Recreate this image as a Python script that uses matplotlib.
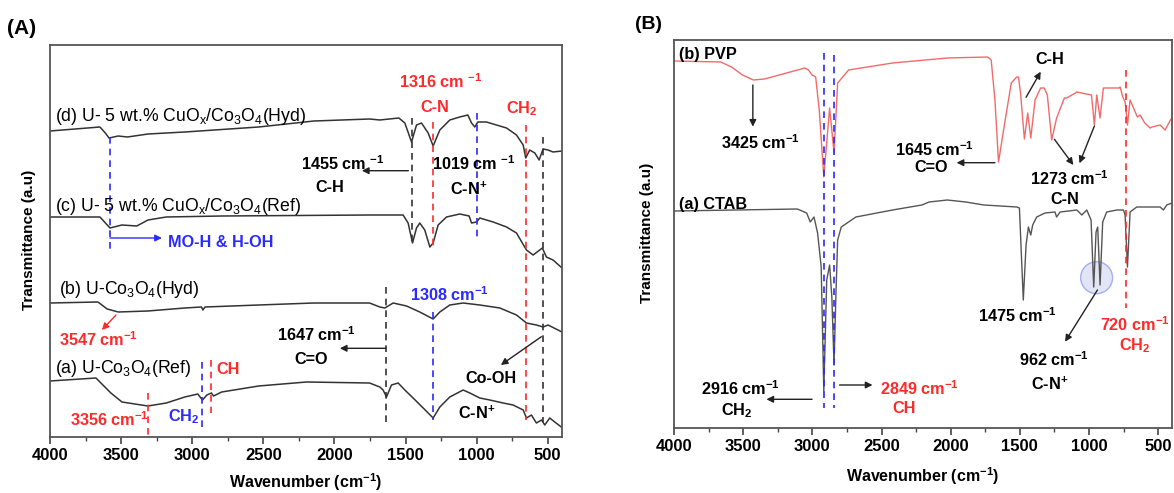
import matplotlib
matplotlib.use("Agg")
import matplotlib.pyplot as plt
from matplotlib.patches import Ellipse

plt.rcParams['font.family'] = ['Liberation Sans', 'DejaVu Sans']
plt.rcParams['mathtext.default'] = 'regular'

# ---------------- Panel A data (wavenumber, transmittance a.u.) ----------------
wn_d = [4000, 3649, 3611, 3585, 3520, 3455, 3311, 3052, 2533, 2273, 2144, 1753, 1681, 1547, 1505,
        1458, 1423, 1388, 1341, 1306, 1259, 1189, 1119, 1062, 1036, 1013, 992, 931, 861, 790, 720,
        673, 655, 627, 591, 561, 533, 498, 463, 400]
t_d = [306, 310, 304, 299, 301, 300, 303, 305, 310, 314, 316, 318, 317, 319, 314,
       295, 312, 314, 304, 291, 307, 317, 320, 322, 314, 310, 315, 315, 312, 309, 302,
       292, 279, 287, 284, 277, 288, 287, 285, 286]

wn_c = [4000, 3649, 3578, 3494, 3390, 3311, 3183, 2792, 1753, 1681, 1517, 1482, 1451, 1423, 1400,
        1365, 1329, 1306, 1271, 1212, 1119, 1053, 1036, 1001, 978, 884, 790, 720, 650, 603, 538,
        510, 463, 400]
t_c = [220, 220, 209, 212, 211, 217, 220, 221, 222, 222, 222, 214, 194, 209, 214,
       207, 190, 194, 212, 220, 223, 221, 214, 215, 219, 215, 210, 204, 187, 182, 189,
       180, 177, 169]

wn_b = [4000, 3663, 3598, 3520, 3312, 3052, 2935, 2925, 2910, 2533, 2144, 1753, 1681, 1646, 1587,
        1493, 1400, 1306, 1259, 1189, 1095, 978, 837, 720, 650, 580, 533, 498, 400]
t_b = [134, 135, 128, 125, 126, 129, 130, 127, 130, 132, 134, 134, 130, 129, 134,
       131, 125, 118, 125, 132, 134, 132, 129, 122, 114, 112, 110, 112, 105]

wn_a = [4000, 3677, 3572, 3494, 3312, 3182, 3052, 2961, 2928, 2897, 2865, 2850, 2793, 2533, 2196,
        1753, 1681, 1658, 1634, 1599, 1552, 1505, 1447, 1376, 1306, 1259, 1189, 1095, 1048, 978,
        908, 814, 744, 673, 650, 615, 580, 544, 521, 486, 451, 405]
t_a = [56, 59, 44, 35, 31, 34, 40, 43, 37, 42, 44, 41, 45, 51, 55,
       54, 50, 47, 40, 52, 54, 47, 39, 29, 19, 30, 40, 47, 44, 39,
       37, 34, 32, 27, 19, 22, 14, 17, 12, 19, 15, 10]

# ---------------- Panel B data ----------------
wn_pvp = [4000, 3662, 3584, 3505, 3426, 3346, 3213, 3054, 3028, 3002, 2976, 2950, 2917, 2875, 2843,
          2817, 2738, 2420, 2025, 1733, 1707, 1680, 1654, 1614, 1562, 1522, 1510, 1495, 1467, 1443,
          1421, 1390, 1350, 1324, 1301, 1270, 1234, 1178, 1162, 1098, 1090, 982, 961, 944, 920,
          896, 782, 775, 756, 739, 722, 703, 650, 630, 597, 558, 544, 486, 450, 411, 400]
t_pvp = [367, 366, 361, 353, 348, 349, 354, 360, 358, 353, 351, 318, 251, 320, 275,
         345, 358, 365, 370, 371, 368, 328, 266, 301, 345, 351, 351, 335, 289, 315,
         290, 328, 340, 340, 333, 288, 310, 330, 330, 335, 336, 333, 303, 333, 310,
         340, 340, 341, 331, 326, 303, 328, 311, 313, 305, 300, 301, 303, 298, 308, 310]

wn_ctab = [4000, 3108, 3041, 3015, 2988, 2962, 2949, 2936, 2917, 2896, 2875, 2859, 2843, 2830, 2817,
           2791, 2685, 2420, 2208, 2156, 2024, 1891, 1759, 1522, 1503, 1475, 1455, 1438, 1421, 1407,
           1378, 1318, 1246, 1234, 1209, 1088, 1052, 1016, 985, 966, 949, 937, 920, 901, 872,
           799, 751, 739, 722, 703, 655, 486, 462, 438, 400]
t_ctab = [217, 219, 215, 206, 211, 195, 178, 161, 36, 148, 163, 131, 63, 131, 188,
          201, 211, 218, 223, 226, 228, 226, 223, 221, 220, 128, 183, 201, 193, 203,
          211, 215, 216, 211, 216, 218, 213, 218, 208, 141, 196, 201, 143, 206, 216,
          218, 218, 213, 161, 216, 221, 221, 218, 223, 225]

xticks = [4000, 3500, 3000, 2500, 2000, 1500, 1000, 500]

RED = '#ff2a2a'
BLUE = '#2a2aff'
DARK = '#333333'

fig = plt.figure(figsize=(11.74, 4.93), dpi=100)
W, H = 1174, 493

def axpos(l, t, r, b):
    return [l / W, 1 - b / H, (r - l) / W, (b - t) / H]

axA = fig.add_axes(axpos(50, 45, 562, 437))
axB = fig.add_axes(axpos(674, 40, 1172, 428))

for ax in (axA, axB):
    ax.set_xlim(4000, 400)
    ax.set_xticks(xticks)
    ax.set_xticks([3750, 3250, 2750, 2250, 1750, 1250, 750], minor=True)
    ax.set_yticks([])
    ax.tick_params(axis='x', which='major', direction='out', length=5, width=1.2, colors='#444',
                   labelsize=12, labelcolor='black', pad=3)
    ax.tick_params(axis='x', which='minor', direction='out', length=3, width=1.0, colors='#444')
    for lab in ax.get_xticklabels():
        lab.set_fontweight('bold')
    for s in ax.spines.values():
        s.set_color('#555555')
        s.set_linewidth(1.3)

axA.set_ylim(0, 392)
axB.set_ylim(0, 388)

# curves
for wn, t in ((wn_d, t_d), (wn_c, t_c), (wn_b, t_b), (wn_a, t_a)):
    axA.plot(wn, t, color=DARK, lw=1.1)
axB.plot(wn_pvp, t_pvp, color='#f26a6a', lw=1.0)
axB.plot(wn_ctab, t_ctab, color='#555555', lw=1.0)

dash = (0, (4, 3))
def vline(ax, x, y0, y1, c):
    ax.plot([x, x], [y0, y1], color=c, lw=1.2, linestyle=dash)

# Panel A dashed lines
for x, y0, y1, c in [(3578, 300, 185, BLUE), (1458, 319, 194, DARK), (1306, 315, 190, RED),
                     (1001, 324, 200, BLUE), (650, 312, 17, RED), (533, 300, 15, DARK),
                     (1634, 150, 14, DARK), (1306, 125, 17, BLUE), (3312, 44, 2, RED),
                     (2928, 75, 10, BLUE), (2865, 77, 24, RED)]:
    vline(axA, x, y0, y1, c)

# Panel B dashed lines
for x, y0, y1, c in [(2917, 375, 20, BLUE), (2843, 373, 20, BLUE), (735, 358, 120, RED)]:
    vline(axB, x, y0, y1, c)

def txt(ax, x, y, s, c='black', bold=True, size=11.7, ha='left'):
    ax.text(x, y, s, color=c, fontsize=size, fontweight='bold' if bold else 'normal',
            ha=ha, va='center')

def arrow(ax, x0, y0, x1, y1, c='#222222'):
    ax.annotate('', xy=(x1, y1), xytext=(x0, y0),
                arrowprops=dict(arrowstyle='-|>', color=c, lw=1.0, mutation_scale=10,
                                shrinkA=0, shrinkB=0))

# Panel A text
txt(axA, 3965, 320.5, '(d) U- 5 wt.% CuO$_x$/Co$_3$O$_4$(Hyd)', bold=False, size=12.7)
txt(axA, 3965, 230.5, '(c) U- 5 wt.% CuO$_x$/Co$_3$O$_4$(Ref)', bold=False, size=12.7)
txt(axA, 3937, 147.5, '(b) U-Co$_3$O$_4$(Hyd)', bold=False, size=12.7)
txt(axA, 3965, 68.5, '(a) U-Co$_3$O$_4$(Ref)', bold=False, size=12.7)
txt(axA, 3171, 194.5, 'MO-H & H-OH', c=BLUE)
arrow(axA, 3578, 199, 3213, 199, c=BLUE)
txt(axA, 1547, 355.5, '1316 cm $^{-1}$', c=RED)
txt(axA, 1393, 329.5, 'C-N', c=RED)
txt(axA, 795, 328.5, 'CH$_2$', c=RED)
txt(axA, 2236, 273.5, '1455 cm $^{-1}$')
arrow(axA, 1480, 266.3, 1807, 266.3)
txt(axA, 2131, 249, 'C-H')
txt(axA, 1315, 273.5, '1019 cm $^{-1}$')
txt(axA, 1189, 248, 'C-N$^{+}$')
txt(axA, 3937, 97, '3547 cm$^{-1}$', c=RED)
arrow(axA, 3536, 122, 3635, 107, c=RED)
txt(axA, 1470, 142.5, '1308 cm$^{-1}$', c=BLUE)
txt(axA, 2405, 102.5, '1647 cm$^{-1}$')
arrow(axA, 1639, 88.7, 1962, 88.7)
txt(axA, 2285, 77, 'C=O')
txt(axA, 2833, 67.5, 'CH', c=RED)
txt(axA, 3171, 20.5, 'CH$_2$', c=BLUE)
txt(axA, 3859, 17.5, '3356 cm$^{-1}$', c=RED)
txt(axA, 1076, 58.5, 'Co-OH')
arrow(axA, 545, 100.3, 830, 72)
txt(axA, 1133, 23.5, 'C-N$^{+}$')

# Panel B text
txt(axB, 3964, 374, '(b) PVP', size=11.7)
txt(axB, 3964, 224, '(a) CTAB', size=11.7)
arrow(axB, 3430, 343, 3430, 301.3)
txt(axB, 3662, 285.5, '3425 cm$^{-1}$')
txt(axB, 2402, 278.5, '1645 cm$^{-1}$')
txt(axB, 2265, 260.5, 'C=O')
arrow(axB, 1680, 265.3, 1957, 265.3)
txt(axB, 1390, 369, 'C-H')
arrow(axB, 1455, 330.7, 1349, 356.3)
txt(axB, 1426, 249.5, '1273 cm$^{-1}$')
txt(axB, 1281, 229, 'C-N')
arrow(axB, 1250, 288.7, 1113, 263)
arrow(axB, 961, 302, 1069, 264.7)
txt(axB, 3808, 39.5, '2916 cm$^{-1}$')
txt(axB, 3662, 17, 'CH$_2$')
arrow(axB, 3002, 28.7, 3332, 28.7)
txt(axB, 2513, 39.5, '2849 cm$^{-1}$', c=RED)
txt(axB, 2420, 19.5, 'CH', c=RED)
arrow(axB, 2803, 43, 2565, 43)
txt(axB, 1802, 112.5, '1475 cm$^{-1}$')
txt(axB, 1508, 68.5, '962 cm$^{-1}$')
txt(axB, 1419, 43.5, 'C-N$^{+}$')
arrow(axB, 939, 138, 1173, 86.3)
txt(axB, 920, 103.5, '720 cm$^{-1}$', c=RED)
txt(axB, 782, 82, 'CH$_2$', c=RED)
axB.add_patch(Ellipse((945, 150.3), 231, 32, facecolor=(0.55, 0.6, 0.85, 0.25),
                      edgecolor=(0.45, 0.5, 0.95, 0.6), lw=1.0))

# axis labels
for ax, yl in ((axA, (437 - 482) / 392), (axB, (428 - 476) / 388)):
    ax.text(0.5, yl, 'Wavenumber (cm$^{-1}$)', transform=ax.transAxes, ha='center', va='center',
            fontsize=11.5, fontweight='bold')
fig.text(29.5 / W, 1 - 240 / H, 'Transmittance (a.u)', rotation=90, ha='center', va='center',
         fontsize=11, fontweight='bold')
fig.text(647 / W, 1 - 233 / H, 'Transmittance (a.u)', rotation=90, ha='center', va='center',
         fontsize=11, fontweight='bold')
fig.text(7 / W, 1 - 29 / H, '(A)', ha='left', va='center', fontsize=15, fontweight='bold')
fig.text(635 / W, 1 - 24.5 / H, '(B)', ha='left', va='center', fontsize=14, fontweight='bold')

fig.savefig('out.png', dpi=100)
